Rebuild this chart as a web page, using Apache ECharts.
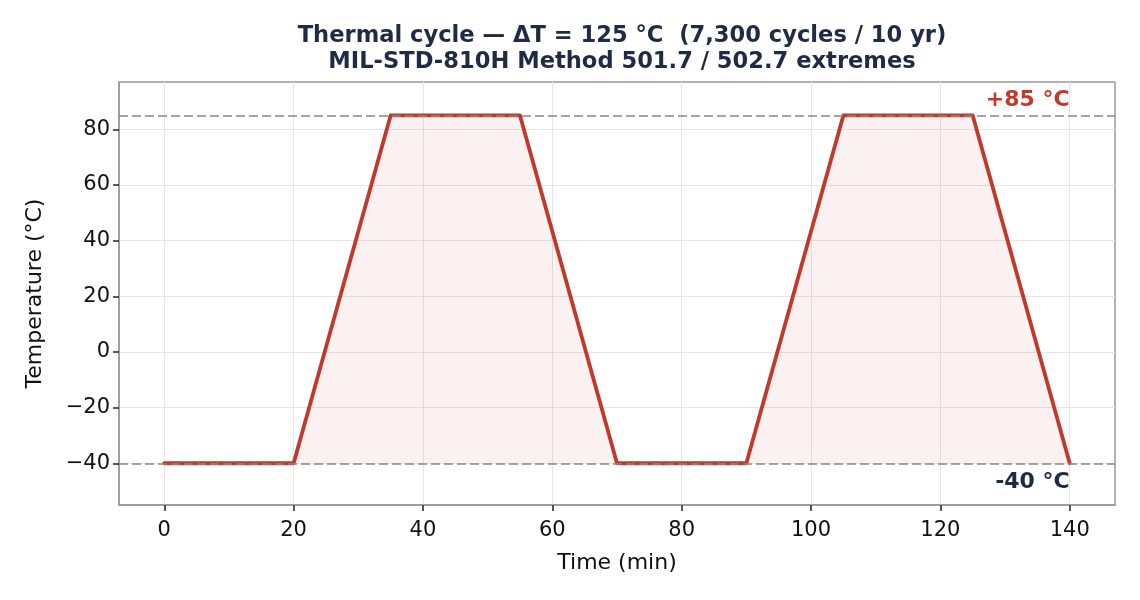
<!DOCTYPE html>
<html>
<head>
<meta charset="utf-8">
<title>Thermal cycle</title>
<script src="https://cdn.jsdelivr.net/npm/echarts@6/dist/echarts.min.js"></script>
<style>
  html, body { margin: 0; padding: 0; background: #fff; }
  #main { width: 1140px; height: 600px; }
</style>
</head>
<body>
<div id="main"></div>
<script>
// profile points (time in min, temperature in °C)
var timeMin = [0, 20, 35, 55, 70, 90, 105, 125, 140];
var tempC = [-40, -40, 85, 85, -40, -40, 85, 85, -40];
var xTicks = [0, 20, 40, 60, 80, 100, 120, 140];
var yTicks = [-40, -20, 0, 20, 40, 60, 80];
var hotLimit = 85;
var coldLimit = -40;

var font = 'DejaVu Sans';
var chart = echarts.init(document.getElementById('main'));

var points = [];
for (var i = 0; i < timeMin.length; i++) {
  points.push([timeMin[i], tempC[i]]);
}

chart.setOption({
  animation: false,
  textStyle: { fontFamily: font },
  title: {
    text: 'Thermal cycle \u2014 \u0394T = 125 \u00b0C  (7,300 cycles / 10 yr)\nMIL-STD-810H Method 501.7 / 502.7 extremes',
    left: 617,
    textAlign: 'center',
    top: 18,
    textStyle: { fontFamily: font, fontSize: 22.6, fontWeight: 'bold', color: '#1f2a44', lineHeight: 26 }
  },
  grid: {
    left: 119, right: 25, top: 82, bottom: 95,
    show: true, borderColor: '#999', borderWidth: 1.5, backgroundColor: 'transparent'
  },
  xAxis: {
    type: 'value',
    min: -7, max: 147,
    name: 'Time (min)',
    nameLocation: 'middle',
    nameGap: 47,
    nameTextStyle: { fontFamily: font, fontSize: 22, color: '#111' },
    axisLine: { show: true, onZero: false, lineStyle: { color: '#999', width: 1.5 } },
    axisTick: { show: true, length: 6, customValues: xTicks, lineStyle: { color: '#222', width: 1.5 } },
    axisLabel: { customValues: xTicks, fontFamily: font, fontSize: 21, color: '#111', margin: 15 },
    splitLine: { show: true, lineStyle: { color: '#e6e6e6', width: 1 } }
  },
  yAxis: {
    type: 'value',
    min: -55, max: 97,
    name: 'Temperature (\u00b0C)',
    nameLocation: 'middle',
    nameGap: 73,
    nameTextStyle: { fontFamily: font, fontSize: 22, color: '#111' },
    axisLine: { show: true, onZero: false, lineStyle: { color: '#999', width: 1.5 } },
    axisTick: { show: true, length: 6, customValues: yTicks, lineStyle: { color: '#222', width: 1.5 } },
    axisLabel: {
      customValues: yTicks, fontFamily: font, fontSize: 21, color: '#111', margin: 9,
      formatter: function (v) { return v < 0 ? '\u2212' + Math.abs(v) : String(v); }
    },
    splitLine: { show: true, lineStyle: { color: '#e6e6e6', width: 1 } }
  },
  series: [
    {
      type: 'line',
      data: points,
      symbol: 'none',
      lineStyle: { color: '#c0392b', width: 3.8, cap: 'round', join: 'round' },
      areaStyle: { color: 'rgba(192,57,43,0.1)', origin: coldLimit },
      z: 2
    },
    {
      type: 'line',
      data: [],
      z: 5,
      markLine: {
        silent: true,
        symbol: 'none',
        label: { show: false },
        lineStyle: { color: '#888', type: [9, 4], width: 1.6 },
        data: [{ yAxis: hotLimit }, { yAxis: coldLimit }]
      },
      markPoint: {
        silent: true,
        symbol: 'circle',
        symbolSize: 1,
        itemStyle: { color: 'rgba(0,0,0,0)' },
        data: [
          {
            coord: [140, hotLimit],
            label: {
              show: true, formatter: '+85 \u00b0C', position: 'inside',
              align: 'right', verticalAlign: 'bottom', offset: [0, -4],
              fontFamily: font, fontSize: 22, fontWeight: 'bold', color: '#c0392b'
            }
          },
          {
            coord: [140, coldLimit],
            label: {
              show: true, formatter: '-40 \u00b0C', position: 'inside',
              align: 'right', verticalAlign: 'top', offset: [0, 8],
              fontFamily: font, fontSize: 22, fontWeight: 'bold', color: '#1f2a44'
            }
          }
        ]
      }
    }
  ]
});
</script>
</body>
</html>
